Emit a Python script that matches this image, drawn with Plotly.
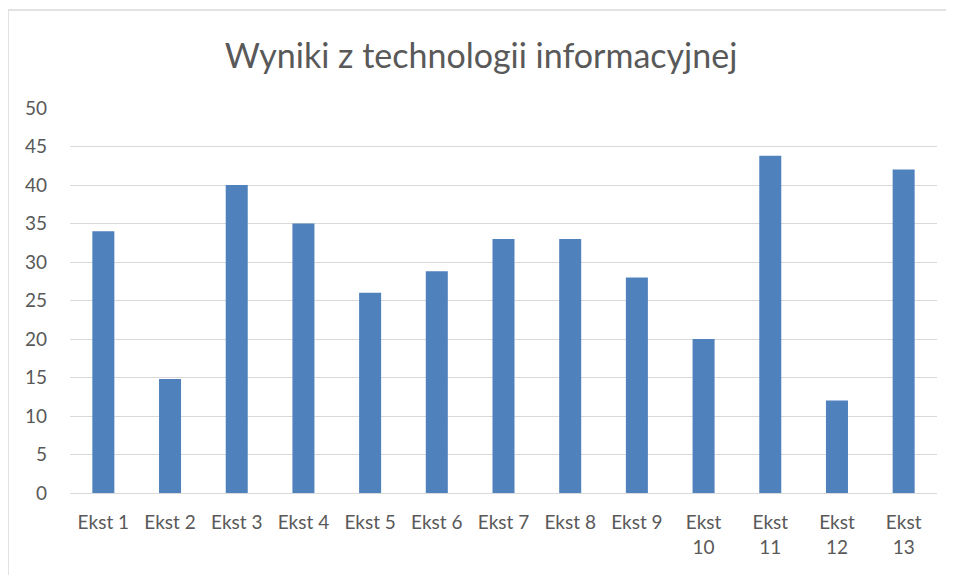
import plotly.graph_objects as go

categories = ["Ekst 1", "Ekst 2", "Ekst 3", "Ekst 4", "Ekst 5", "Ekst 6", "Ekst 7",
              "Ekst 8", "Ekst 9", "Ekst<br>10", "Ekst<br>11", "Ekst<br>12", "Ekst<br>13"]
values = [34, 14.8, 40, 35, 26, 28.8, 33, 33, 28, 20, 43.8, 12, 42]
y_ticks = [0, 5, 10, 15, 20, 25, 30, 35, 40, 45, 50]

# page body has an 8px margin, so figure coords = screen coords - 8
OFF = 8
W, H = 954 - OFF, 575 - OFF
L, R, T, B = 70 - OFF, W - (937 - OFF), 108 - OFF, H - (493 - OFF)
pw, ph = W - L - R, H - T - B

fig = go.Figure(go.Bar(x=categories, y=values, marker=dict(color="#4F81BD", line=dict(width=0)), width=0.33))

FONT = "Lato, Open Sans, sans-serif"
fig.update_layout(
    width=W, height=H,
    margin=dict(l=L, r=R, t=T, b=B),
    paper_bgcolor="white", plot_bgcolor="white",
    title=dict(text="Wyniki z technologii informacyjnej", x=0.5, xanchor="center",
               y=1 - (56 - OFF) / H, yanchor="middle", font=dict(family=FONT, size=34, color="#595959")),
    font=dict(family=FONT, size=19, color="#595959"),
    xaxis=dict(tickfont=dict(size=19, color="#595959"), showgrid=False, showline=False,
               ticklabelstandoff=16, tickangle=0),
    yaxis=dict(range=[0, 50], tickvals=y_ticks, showgrid=True, gridcolor="#D9D9D9", gridwidth=1,
               zeroline=True, zerolinecolor="#D9D9D9", zerolinewidth=1,
               tickfont=dict(size=19, color="#595959"), ticklabelstandoff=22),
    showlegend=False,
    bargap=0.67,
)

# chart frame (partially outside window like reference)
x0 = (8 - 70) / pw
ytop = (493 - 10) / ph
fig.add_shape(type="line", xref="paper", yref="paper", x0=x0, x1=(954 + 5 - 70) / pw, y0=ytop, y1=ytop,
              line=dict(color="#D9D9D9", width=1.5))
fig.add_shape(type="line", xref="paper", yref="paper", x0=x0, x1=x0, y0=ytop, y1=-(B + 20) / ph,
              line=dict(color="#D9D9D9", width=1.5))

fig.write_html("out.html")
